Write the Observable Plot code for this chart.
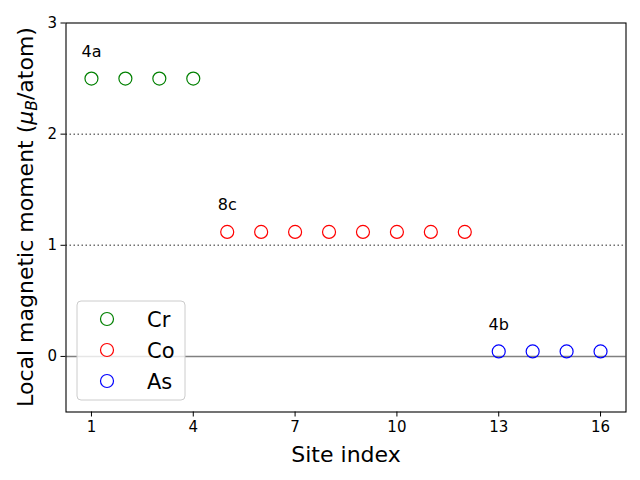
<!DOCTYPE html>
<html><head><meta charset="utf-8">
<script src="https://cdn.jsdelivr.net/npm/d3@7"></script>
<script src="https://cdn.jsdelivr.net/npm/@observablehq/plot@0.6"></script>
<style>
body{margin:0;background:#fff;}
#wrap{position:relative;width:640px;height:480px;}
</style>
</head><body><div id="wrap"></div>
<script>
// ---- data ----
const siteIndex = [1,2,3,4,5,6,7,8,9,10,11,12,13,14,15,16];
const siteSpecies = ["Cr","Cr","Cr","Cr","Co","Co","Co","Co","Co","Co","Co","Co","As","As","As","As"];
const siteMoment = [2.5,2.5,2.5,2.5,1.12,1.12,1.12,1.12,1.12,1.12,1.12,1.12,0.045,0.045,0.045,0.045];
const species = ["Cr","Co","As"];
const speciesColors = ["green","red","blue"];
const wyckoffLabels = ["4a","8c","4b"];
const xTicks = [1,4,7,10,13,16];
const yTicks = [0,1,2,3];
const refLinesDotted = [1,2];
const refLineSolid = [0];

const rows = siteIndex.map((s,i)=>({site:s, species:siteSpecies[i], m:siteMoment[i]}));
const firstOf = species.map((sp,k)=>{const r = rows.find(d=>d.species===sp); return {...r, label:wyckoffLabels[k]};});

const chart = Plot.plot({
  width:640, height:480,
  marginLeft:65.5, marginRight:14.5, marginTop:22.5, marginBottom:68.5,
  style:{fontFamily:"DejaVu Sans", fontSize:"15px", background:"white", color:"black", overflow:"visible"},
  x:{domain:[0.25,16.75], ticks:xTicks, tickSize:5, tickPadding:4, label:null, tickFormat:d=>String(d)},
  y:{domain:[-0.5,3], ticks:yTicks, tickSize:5, tickPadding:4, label:null, tickFormat:d=>String(d)},
  color:{domain:species, range:speciesColors},
  marks:[
    Plot.ruleY(refLinesDotted, {stroke:"#707070", strokeWidth:1.5, strokeDasharray:"1.5,2.5"}),
    Plot.ruleY(refLineSolid, {stroke:"#808080", strokeWidth:1.5}),
    Plot.dot(rows, {x:"site", y:"m", stroke:"species", fill:"none", r:6.5, strokeWidth:1.2}),
    Plot.text(firstOf, {x:"site", y:"m", text:"label", dy:-27, fontSize:16, fill:"black"}),
    Plot.frame({stroke:"black", strokeWidth:1.1})
  ]
});
document.getElementById("wrap").appendChild(chart);

const svg = d3.select(chart);
// x label
svg.append("text").attr("x",346).attr("y",462).attr("text-anchor","middle")
  .attr("font-family","DejaVu Sans").attr("font-size",22).attr("fill","black").text("Site index");
// y label with mathtext
const yl = svg.append("text").attr("transform","translate(33,217) rotate(-90)").attr("text-anchor","middle")
  .attr("font-family","DejaVu Sans").attr("font-size",22).attr("fill","black");
yl.append("tspan").text("Local magnetic moment (");
yl.append("tspan").attr("font-style","italic").text("\u03bc");
yl.append("tspan").attr("font-style","italic").attr("font-size",15.5).attr("dy",4).text("B");
yl.append("tspan").attr("dy",-4).text("/atom)");

// legend
const lg = svg.append("g").attr("transform","translate(77,301)");
lg.append("rect").attr("width",108).attr("height",99).attr("rx",4).attr("ry",4)
  .attr("fill","rgba(255,255,255,0.8)").attr("stroke","#cccccc").attr("stroke-width",1);
species.forEach((sp,k)=>{
  const cy = 18 + k*31;
  lg.append("circle").attr("cx",30).attr("cy",cy).attr("r",6.5).attr("fill","none")
    .attr("stroke",speciesColors[k]).attr("stroke-width",1.2);
  lg.append("text").attr("x",70).attr("y",cy+7.5).attr("text-anchor","start").attr("font-family","DejaVu Sans")
    .attr("font-size",21).attr("fill","black").text(sp);
});
</script>
</body></html>
